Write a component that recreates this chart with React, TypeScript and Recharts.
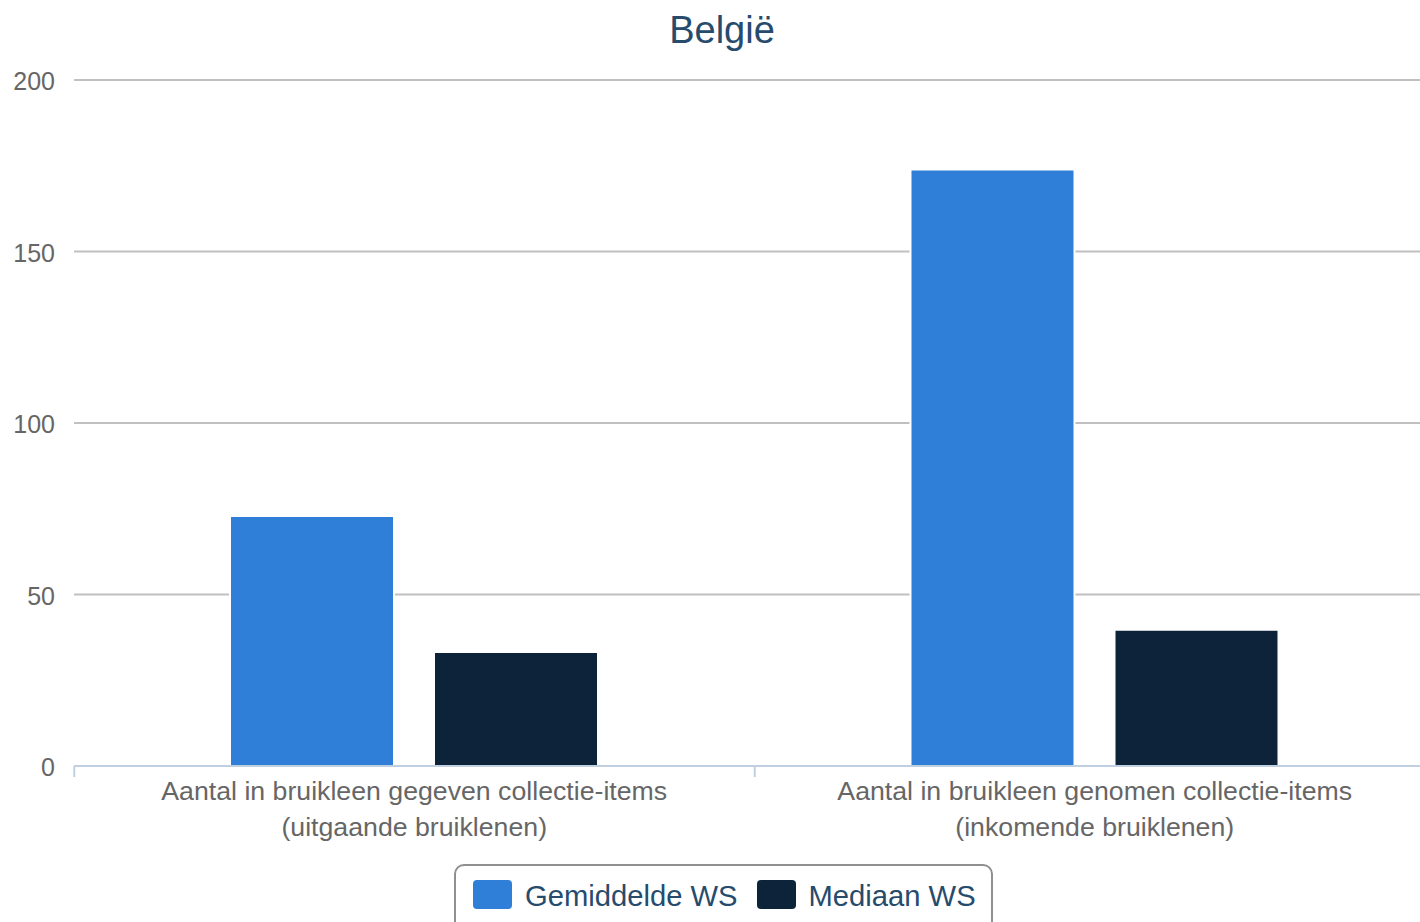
import React from 'react'
import { BarChart, Bar, XAxis, YAxis, CartesianGrid } from 'recharts'

document.body.style.margin = '0'

const categories = [
  'Aantal in bruikleen gegeven collectie-items',
  'Aantal in bruikleen genomen collectie-items',
]
const categoryNotes = ['(uitgaande bruiklenen)', '(inkomende bruiklenen)']

const gemiddelde = [72.9, 173.9]
const mediaan = [33.2, 39.7]
const yTicks = [0, 50, 100, 150, 200]

const series = [
  { key: 'gemiddelde', name: 'Gemiddelde WS', color: '#2f7ed8' },
  { key: 'mediaan', name: 'Mediaan WS', color: '#0d233a' },
]

const data = categories.map((c, i) => ({
  name: c,
  note: categoryNotes[i],
  gemiddelde: gemiddelde[i],
  mediaan: mediaan[i],
}))

const FONT = '"Liberation Sans", Arial, Helvetica, sans-serif'
const AXIS_Y = 766
const HALF_BAND = 340

function XTick(props: any) {
  const { x, payload, index } = props
  const d = data[index] ?? data.find((r) => r.name === payload.value)
  return (
    <g>
      <line x1={x - HALF_BAND} x2={x - HALF_BAND} y1={AXIS_Y} y2={AXIS_Y + 11} stroke="#c0d0e0" strokeWidth={2} />
      <text x={x} y={AXIS_Y + 34} textAnchor="middle" fill="#666" fontSize={26.7} fontFamily={FONT}>
        {payload.value}
      </text>
      <text x={x} y={AXIS_Y + 70} textAnchor="middle" fill="#666" fontSize={26.7} fontFamily={FONT}>
        {d?.note}
      </text>
    </g>
  )
}

function YTick(props: any) {
  const { y, payload } = props
  return (
    <text x={55} y={y + 10} textAnchor="end" fill="#666" fontSize={25} fontFamily={FONT}>
      {payload.value}
    </text>
  )
}

export default function App() {
  return (
    <div style={{ position: 'relative', width: 1420, height: 922, overflow: 'hidden', fontFamily: FONT }}>
      <div
        style={{
          position: 'absolute',
          left: 722,
          top: 11,
          transform: 'translateX(-50%)',
          fontSize: 38,
          lineHeight: '38px',
          color: '#274b6d',
          whiteSpace: 'nowrap',
        }}
      >
        België
      </div>
      <BarChart
        width={1435}
        height={922}
        data={data}
        margin={{ top: 80, right: 0, bottom: 76, left: 1 }}
        barGap={40}
      >
        <CartesianGrid vertical={false} stroke="#c0c0c0" strokeWidth={2} />
        {series.map((s) => (
          <Bar
            key={s.key}
            dataKey={s.key}
            name={s.name}
            fill={s.color}
            stroke="#ffffff"
            strokeWidth={2}
            barSize={164}
            isAnimationActive={false}
          />
        ))}
        <XAxis
          dataKey="name"
          height={80}
          stroke="#c0d0e0"
          strokeWidth={2}
          tickLine={false}
          tick={<XTick />}
          interval={0}
        />
        <YAxis
          width={73}
          domain={[0, 200]}
          ticks={yTicks}
          axisLine={false}
          tickLine={false}
          tick={<YTick />}
        />
      </BarChart>
      <div
        style={{
          position: 'absolute',
          left: 454,
          top: 864,
          width: 539,
          height: 90,
          boxSizing: 'border-box',
          border: '2px solid #909090',
          borderRadius: 10,
          display: 'flex',
          alignItems: 'flex-start',
          padding: '14px 0 0 17px',
        }}
      >
        {series.map((s, i) => (
          <div key={s.key} style={{ display: 'flex', alignItems: 'flex-start', marginLeft: i === 0 ? 0 : 19 }}>
            <div style={{ width: 39, height: 29, background: s.color, borderRadius: 4 }} />
            <div style={{ marginLeft: 13, marginTop: 2, fontSize: 29.2, lineHeight: '29px', color: '#274b6d', whiteSpace: 'nowrap' }}>
              {s.name}
            </div>
          </div>
        ))}
      </div>
    </div>
  )
}
